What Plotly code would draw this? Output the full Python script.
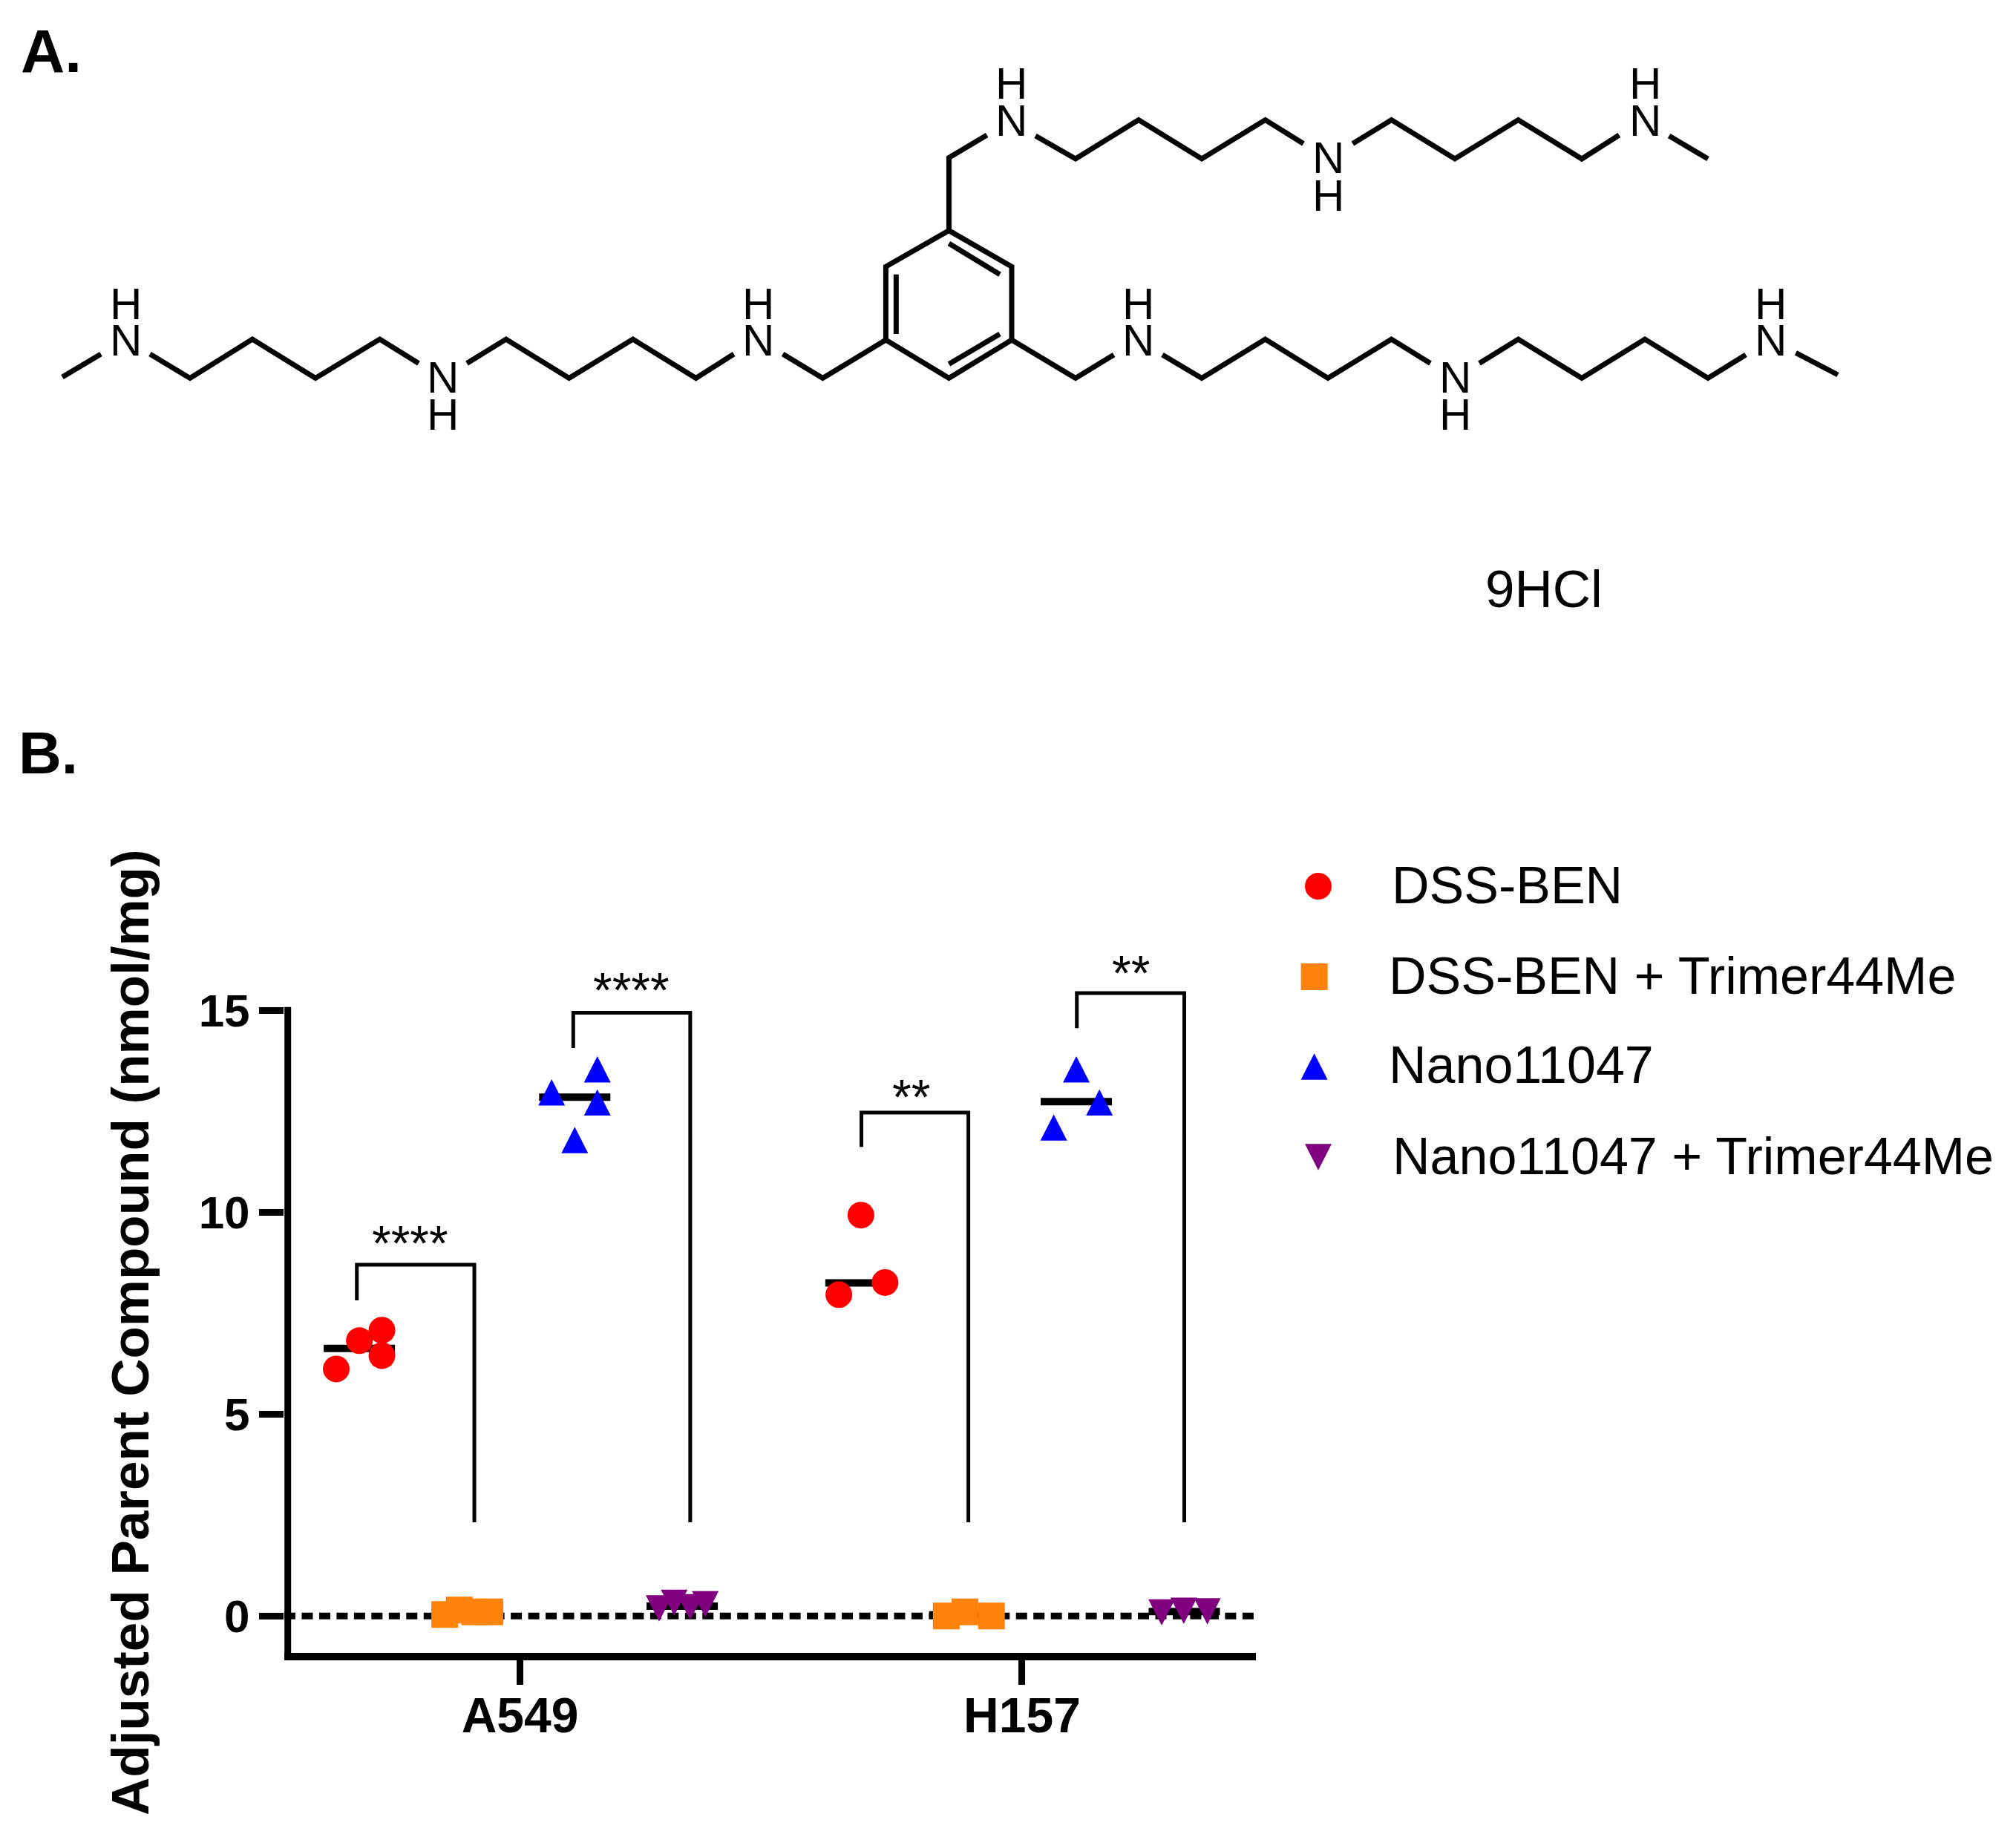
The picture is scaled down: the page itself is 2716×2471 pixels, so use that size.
import plotly.graph_objects as go

W, H = 2716, 2471

# ---------- data ----------
GROUPS = ["A549", "H157"]
GROUP_X = [1, 2]
Y_TICKS = [0, 5, 10, 15]
Y_TITLE = "Adjusted Parent Compound (nmol/mg)"

DSS_BEN_X = [0.634, 0.680, 0.725, 0.725, 1.635, 1.679, 1.727]
DSS_BEN_Y = [6.12, 6.82, 7.08, 6.45, 7.96, 9.93, 8.26]
DSS_TRIMER_X = [0.850, 0.879, 0.910, 0.940, 1.849, 1.886, 1.939]
DSS_TRIMER_Y = [0.04, 0.15, 0.10, 0.10, 0.00, 0.10, 0.00]
NANO_X = [1.063, 1.109, 1.154, 1.154, 2.063, 2.108, 2.154]
NANO_Y = [12.97, 11.79, 13.54, 12.72, 12.10, 13.54, 12.72]
NANO_TRIMER_X = [1.277, 1.307, 1.339, 1.369, 2.278, 2.322, 2.369]
NANO_TRIMER_Y = [0.19, 0.33, 0.22, 0.29, 0.09, 0.13, 0.115]

MEDIAN_X = [0.680, 0.895, 1.109, 1.323, 1.679, 1.886, 2.108, 2.323]
MEDIAN_Y = [6.63, 0.10, 12.85, 0.245, 8.25, 0.03, 12.74, 0.11]
MEDIAN_HALF_WIDTH = 0.071

BRACKET_LEFT_X = [0.675, 1.106, 1.680, 2.109]
BRACKET_RIGHT_X = [0.909, 1.339, 1.893, 2.323]
BRACKET_TOP_Y = [8.70, 14.94, 12.47, 15.43]
BRACKET_LEFT_END_Y = [7.82, 14.07, 11.62, 14.56]
BRACKET_RIGHT_END_Y = [2.32, 2.32, 2.32, 2.32]
BRACKET_STARS = ["****", "****", "**", "**"]

SERIES_NAMES = ["DSS-BEN", "DSS-BEN + Trimer44Me", "Nano11047", "Nano11047 + Trimer44Me"]
SERIES_COLORS = ["#ff0000", "#ff820a", "#0000ff", "#800080"]

# ---------- diagram geometry (panel A, drawn on a hidden figure-sized axis) ----------
BONDS = [
    [(84, 508), (136, 477)],
    [(202, 477), (256, 509.5), (340, 457), (425, 509.5), (511.7, 457), (564, 489.4)],
    [(629, 489.4), (681.7, 457), (766.7, 509.5), (852.6, 457), (937.6, 509.5), (988.7, 477)],
    [(1054.6, 477), (1108.4, 509.5), (1193.4, 458)],
    [(1193.4, 458), (1193.4, 359.3), (1278.4, 310.6), (1363, 359.3), (1363, 458), (1278.4, 509.5), (1193.4, 458)],
    [(1207.3, 369.7), (1207.3, 450)],
    [(1278.4, 328), (1347, 369.7)],
    [(1278.4, 490.5), (1347, 450)],
    [(1278.4, 310.6), (1278.4, 212.5), (1329.6, 182)],
    [(1395, 183), (1449, 214), (1534, 161.5), (1619, 214), (1704.6, 161.5), (1756, 193.5)],
    [(1822.4, 193.5), (1874.6, 161.5), (1960, 214), (2045.4, 161.5), (2131, 214), (2181.4, 182)],
    [(2248.6, 183), (2301, 214)],
    [(1363, 458), (1449, 509.5), (1500.6, 478)],
    [(1566, 478), (1619, 509.5), (1704.6, 457), (1789, 509.5), (1874.6, 457), (1927, 489.4)],
    [(1993, 489.4), (2045.4, 457), (2131, 509.5), (2216, 457), (2301, 509.5), (2352, 478)],
    [(2419.4, 475.3), (2476, 505)],
]
ATOM_TEXT = ["N", "H", "N", "H", "N", "H", "N", "H", "N", "H", "N", "H",
             "N", "H", "N", "H", "N", "H"]
ATOM_X = [169, 169, 596, 596, 1021.7, 1021.7, 1362, 1362, 1789, 1789, 2216, 2216,
          1533.8, 1533.8, 1960, 1960, 2385.4, 2385.4]
ATOM_Y = [458, 409, 508, 558, 458, 409, 162.6, 112.7, 212.5, 263, 162.6, 112.7,
          458, 409, 508, 558, 458, 409]

X_LEFT, X_RIGHT = 383.0, 1692.0
Y_TOP, Y_BOTTOM = 1328.7, 2227.0
SPINE_PX = 387.7
FONT = "Liberation Sans"

fig = go.Figure()

# zero reference line
fig.add_trace(go.Scatter(
    x=[0.5305, 2.4657], y=[0, 0], mode="lines", showlegend=False, hoverinfo="skip",
    line=dict(color="black", width=9, dash="15px,8.47px"), xaxis="x", yaxis="y"))

# medians
mx, my = [], []
for cx, cy in zip(MEDIAN_X, MEDIAN_Y):
    mx += [cx - MEDIAN_HALF_WIDTH, cx + MEDIAN_HALF_WIDTH, None]
    my += [cy, cy, None]
fig.add_trace(go.Scatter(x=mx, y=my, mode="lines", showlegend=False, hoverinfo="skip",
                         line=dict(color="black", width=10)))

# brackets
for lx, rx, ty, le, re_ in zip(BRACKET_LEFT_X, BRACKET_RIGHT_X, BRACKET_TOP_Y, BRACKET_LEFT_END_Y, BRACKET_RIGHT_END_Y):
    fig.add_trace(go.Scatter(x=[lx, lx, rx, rx], y=[le, ty, ty, re_], mode="lines",
                             showlegend=False, hoverinfo="skip",
                             line=dict(color="black", width=5)))

# points
series = [(DSS_BEN_X, DSS_BEN_Y, "circle", 36), (DSS_TRIMER_X, DSS_TRIMER_Y, "square", 36),
          (NANO_X, NANO_Y, "triangle-up", 18), (NANO_TRIMER_X, NANO_TRIMER_Y, "triangle-down", 18)]
for (sx, sy, sym, size), name, color in zip(series, SERIES_NAMES, SERIES_COLORS):
    fig.add_trace(go.Scatter(x=sx, y=sy, mode="markers", name=name, showlegend=False,
                             marker=dict(symbol=sym, size=size, color=color, line=dict(width=0))))

# y-axis spine stops at the top tick even though the plot area runs higher for the brackets
shapes = [dict(type="line", xref="paper", yref="y", x0=SPINE_PX / W, x1=SPINE_PX / W, y0=-0.9136, y1=15.083,
               line=dict(color="black", width=9), layer="above")]
TRI_UP = "M-18,-17.7 L18,-17.7 L0,17.7 Z"
TRI_DOWN = "M-18,17.7 L18,17.7 L0,-17.7 Z"
def tri(path, xa, ya, color, xref, yref):
    return dict(type="path", path=path, xref=xref, yref=yref, xsizemode="pixel", ysizemode="pixel",
                xanchor=xa, yanchor=ya, fillcolor=color, line=dict(width=0), layer="above")
for xa, ya in zip(NANO_X, NANO_Y):
    shapes.append(tri(TRI_UP, xa, ya, SERIES_COLORS[2], "x", "y"))
for xa, ya in zip(NANO_TRIMER_X, NANO_TRIMER_Y):
    shapes.append(tri(TRI_DOWN, xa, ya, SERIES_COLORS[3], "x", "y"))

# ---- panel A diagram & custom key on hidden figure-sized axis
for seg in BONDS:
    fig.add_trace(go.Scatter(x=[p[0] for p in seg], y=[p[1] for p in seg], mode="lines", xaxis="x2", yaxis="y2",
                             showlegend=False, hoverinfo="skip",
                             line=dict(color="black", width=7, simplify=False)))

LEG_X = [1776, 1770.6, 1770.6, 1776]
LEG_Y = [1194, 1316, 1437, 1559]
LEG_TEXT_X = [1874, 1870, 1870, 1875]
LEG_TEXT_Y = [1193, 1315, 1435, 1558]
fig.add_trace(go.Scatter(x=LEG_X[:2], y=LEG_Y[:2], mode="markers", xaxis="x2", yaxis="y2", showlegend=False, hoverinfo="skip",
                         marker=dict(symbol=["circle", "square"], size=36, color=SERIES_COLORS[:2], line=dict(width=0))))
shapes.append(tri(TRI_UP, LEG_X[2], LEG_Y[2], SERIES_COLORS[2], "x2", "y2"))
shapes.append(tri(TRI_DOWN, LEG_X[3], LEG_Y[3], SERIES_COLORS[3], "x2", "y2"))

annotations = []
def note(text, x, y, size, bold=False, xanchor="center", yanchor="middle", angle=0):
    annotations.append(dict(text=f"<b>{text}</b>" if bold else text, x=x, y=y, xref="x2", yref="y2",
                            showarrow=False, xanchor=xanchor, yanchor=yanchor, borderpad=0, textangle=angle,
                            font=dict(family=FONT, size=size, color="black")))

for t, ax, ay in zip(ATOM_TEXT, ATOM_X, ATOM_Y):
    note(t, ax, ay, 60)
note("9HCl", 2080, 793, 71)
note("A.", 27, 68, 82, bold=True, xanchor="left")
note("B.", 24, 1014, 80, bold=True, xanchor="left")
for name, tx, ty in zip(SERIES_NAMES, LEG_TEXT_X, LEG_TEXT_Y):
    note(name, tx, ty, 70, xanchor="left")
note(Y_TITLE, 175, 1795, 71, bold=True, angle=-90)

STAR_PX_X = [552.6, 850.8, 1227, 1523]
STAR_PX_Y = [1675, 1334, 1478, 1311]
for s, sx, sy in zip(BRACKET_STARS, STAR_PX_X, STAR_PX_Y):
    note(s, sx, sy, 66, bold=False)

fig.update_layout(
    width=W, height=H, margin=dict(l=0, r=0, t=0, b=0), autosize=False,
    paper_bgcolor="white", plot_bgcolor="rgba(0,0,0,0)", showlegend=False,
    font=dict(family=FONT, color="black"),
    shapes=shapes, annotations=annotations,
    xaxis=dict(domain=[X_LEFT / W, X_RIGHT / W], range=[0.5305, 2.4657], anchor="y", automargin=False,
               tickmode="array", tickvals=GROUP_X, ticktext=[f"<b>{g}</b>" for g in GROUPS],
               showline=True, linewidth=10, linecolor="black", ticks="outside", ticklen=33, tickwidth=9,
               tickcolor="black", showgrid=False, zeroline=False, ticklabelstandoff=-15,
               tickfont=dict(family=FONT, size=66, color="black")),
    yaxis=dict(domain=[(H - Y_BOTTOM) / H, (H - Y_TOP) / H], range=[-0.9136, 15.6], anchor="x", automargin=False,
               tickmode="array", tickvals=Y_TICKS, ticktext=[f"<b>{v}</b>" for v in Y_TICKS],
               showline=False, ticks="outside", ticklen=33, tickwidth=9,
               tickcolor="black", showgrid=False, zeroline=False,
               tickfont=dict(family=FONT, size=62, color="black")),
    xaxis2=dict(domain=[0, 1], range=[0, W], visible=False, anchor="y2", fixedrange=True, automargin=False),
    yaxis2=dict(domain=[0, 1], range=[H, 0], visible=False, anchor="x2", fixedrange=True, automargin=False),
)

fig.write_html("out.html", post_script="document.body.style.margin='0';",
               config=dict(displayModeBar=False))
